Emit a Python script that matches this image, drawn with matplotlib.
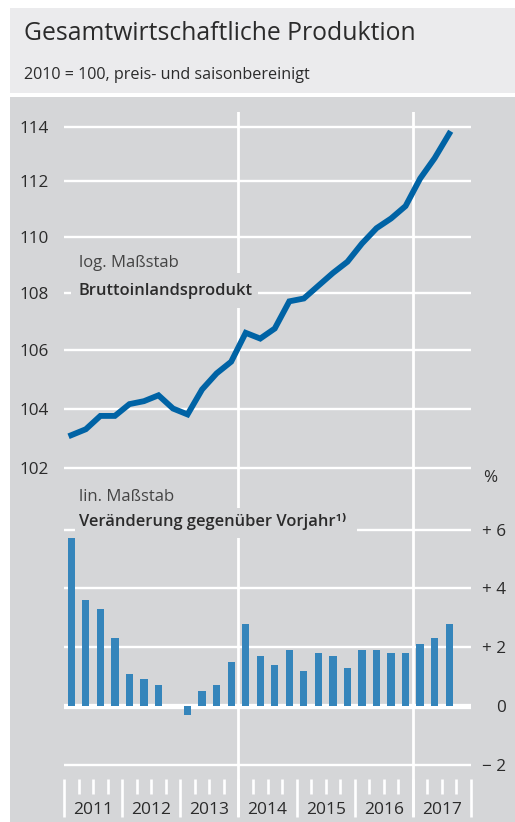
import matplotlib
matplotlib.use("Agg")
import matplotlib.pyplot as plt
from matplotlib.patches import Rectangle
from matplotlib.transforms import blended_transform_factory

# --- data: quarterly 2011 Q1 .. 2017 Q3 ---
years = ["2011", "2012", "2013", "2014", "2015", "2016", "2017"]
gdp_index = [103.1, 103.3, 103.75, 103.75, 104.15, 104.25, 104.45, 104.0, 103.8,
             104.65, 105.2, 105.6, 106.6, 106.4, 106.75, 107.7, 107.8, 108.25,
             108.7, 109.1, 109.75, 110.3, 110.65, 111.1, 112.1, 112.85, 113.75]
yoy_change = [5.7, 3.6, 3.3, 2.3, 1.1, 0.9, 0.7, 0.0, -0.3, 0.5, 0.7, 1.5, 2.8,
              1.7, 1.4, 1.9, 1.2, 1.8, 1.7, 1.3, 1.9, 1.9, 1.8, 1.8, 2.1, 2.3, 2.8]
top_ticks = [102, 104, 106, 108, 110, 112, 114]
bot_ticks = [-2, 0, 2, 4, 6]
bot_ticklabels = ["\u2212 2", "0", "+ 2", "+ 4", "+ 6"]

W, H = 515, 822
HEADER = "#ebebed"
PANEL = "#d5d6d8"
LINE = "#0063a5"
BAR = "#3585bb"
TXT = "#2b2b2b"
FONT = "Open Sans"

plt.rcParams["font.family"] = [FONT, "DejaVu Sans"]


def fx(px):
    return px / W


def fy(py):
    return 1 - py / H


fig = plt.figure(figsize=(W / 100, H / 100), dpi=100)
fig.patch.set_facecolor("white")
fig.add_artist(Rectangle((fx(10), fy(93)), fx(505), 85 / H, transform=fig.transFigure,
                         facecolor=HEADER, edgecolor="none", zorder=0))
fig.add_artist(Rectangle((fx(10), 0), fx(505), 725 / H, transform=fig.transFigure,
                         facecolor=PANEL, edgecolor="none", zorder=0))
fig.text(fx(24), fy(34), "Gesamtwirtschaftliche Produktion", fontsize=17.8, color=TXT, va="center")
fig.text(fx(24), fy(75), "2010 = 100, preis- und saisonbereinigt", fontsize=11.6, color=TXT, va="center")

n = len(gdp_index)
xs = [i + 0.5 for i in range(n)]
x_left, x_right = 64, 471

# upper panel: GDP, log scale
top_px, bot_px = 112, 475
ax1 = fig.add_axes([fx(x_left), fy(bot_px), (x_right - x_left) / W, (bot_px - top_px) / H])
ax1.set_facecolor("none")
ax1.set_yscale("log")
ax1.set_xlim(0, 28)
ax1.set_ylim(101.77, 114.56)
for t in top_ticks:
    ax1.axhline(t, color="white", lw=1.7, zorder=1)
for yb in (12, 24):
    ax1.axvline(yb, color="white", lw=2, zorder=1)
ax1.plot(xs, gdp_index, color=LINE, lw=4.2, solid_joinstyle="miter", zorder=3)
ax1.set_yticks(top_ticks)
ax1.set_yticklabels([str(t) for t in top_ticks])
ax1.yaxis.set_minor_locator(matplotlib.ticker.NullLocator())
ax1.tick_params(axis="y", length=0, pad=11, labelsize=12.3, labelcolor=TXT)
ax1.set_xticks([])
for s in ax1.spines.values():
    s.set_visible(False)


def ax_frac(px, py, top, bot):
    return (px - x_left) / (x_right - x_left), (bot - py) / (bot - top)


x0, y0 = ax_frac(71, 308, top_px, bot_px)
x1, y1 = ax_frac(258, 273, top_px, bot_px)
ax1.add_patch(Rectangle((x0, y0), x1 - x0, y1 - y0, transform=ax1.transAxes,
                        facecolor=PANEL, edgecolor="none", zorder=2))
ax1.text(*ax_frac(79, 263, top_px, bot_px), "log. Maßstab", transform=ax1.transAxes,
         fontsize=12, color="#444444", va="center", zorder=4)
ax1.text(*ax_frac(79, 291, top_px, bot_px), "Bruttoinlandsprodukt", transform=ax1.transAxes,
         fontsize=11.9, fontweight="semibold", color=TXT, va="center", zorder=4)

# lower panel: year-on-year change, bars
top2, bot2 = 475, 817
ax2 = fig.add_axes([fx(x_left), fy(bot2), (x_right - x_left) / W, (bot2 - top2) / H])
ax2.set_facecolor("none")
ax2.set_xlim(0, 28)
ax2.set_ylim(-3.78, 7.86)
for t in bot_ticks:
    ax2.axhline(t, color="white", lw=3.8 if t == 0 else 1.7, zorder=1)
for yb in (12, 24):
    ax2.axvline(yb, color="white", lw=2, zorder=1)
ax2.bar(xs, yoy_change, width=0.5, color=BAR, edgecolor="none", zorder=2.5)
ax2.yaxis.tick_right()
ax2.set_yticks(bot_ticks)
ax2.set_yticklabels(bot_ticklabels)
ax2.tick_params(axis="y", length=0, pad=25, labelsize=12.3, labelcolor=TXT)
for lab in ax2.get_yticklabels():
    lab.set_ha("right")
ax2.set_xticks([])
for s in ax2.spines.values():
    s.set_visible(False)

# quarter / year ticks below the bars
trans = blended_transform_factory(ax2.transData, ax2.transAxes)
tick_top = (bot2 - 779) / (bot2 - top2)
q_bot = (bot2 - 794) / (bot2 - top2)
for q in range(29):
    ax2.plot([q, q], [tick_top, 0 if q % 4 == 0 else q_bot], transform=trans,
             color="white", lw=1.9, solid_capstyle="butt", zorder=1, clip_on=False)
for i, yr in enumerate(years):
    ax2.text(i * 4 + 2, (bot2 - 810) / (bot2 - top2), yr, transform=trans, ha="center",
             va="center", fontsize=12.5, color=TXT)

x0, y0 = ax_frac(75, 538, top2, bot2)
x1, y1 = ax_frac(357, 508, top2, bot2)
ax2.add_patch(Rectangle((x0, y0), x1 - x0, y1 - y0, transform=ax2.transAxes,
                        facecolor=PANEL, edgecolor="none", zorder=2))
ax2.text(*ax_frac(79, 497, top2, bot2), "lin. Maßstab", transform=ax2.transAxes,
         fontsize=12, color="#444444", va="center", zorder=4)
ax2.text(*ax_frac(79, 521, top2, bot2), "Veränderung gegenüber Vorjahr¹⁾",
         transform=ax2.transAxes, fontsize=11.9, fontweight="semibold", color=TXT,
         va="center", zorder=4)
fig.text(fx(483), fy(478), "%", fontsize=12.3, color=TXT, va="center")

fig.savefig("out.png", dpi=100)
